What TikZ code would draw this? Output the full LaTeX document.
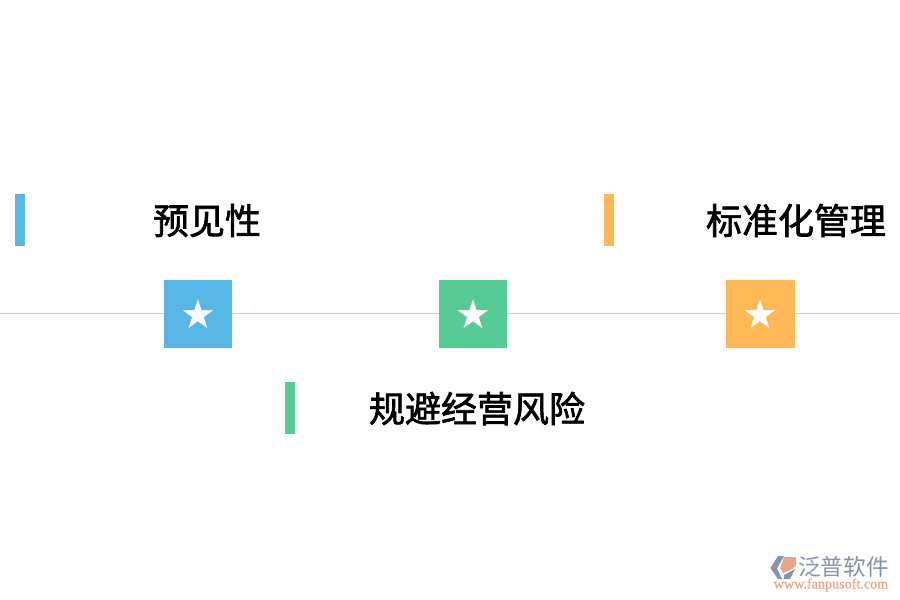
\documentclass[tikz,border=0pt]{standalone}
\usepackage{fontspec}
\setmainfont{DejaVu Sans}
\newfontfamily\cjk{Noto Sans CJK SC}
\newfontfamily\cjkb{Noto Sans CJK SC}[FakeBold=1.8]
\newfontfamily\urlfont{Liberation Serif}[FakeBold=0.6]
\definecolor{cblue}{HTML}{58B6E6}
\definecolor{cgreen}{HTML}{56CC94}
\definecolor{corange}{HTML}{FFB856}
\definecolor{cline}{HTML}{CFCFCF}
\definecolor{cgray}{HTML}{8494AC}
\definecolor{cor}{HTML}{E8A688}
\tikzset{
 px/.style={x=0.75pt,y=-0.75pt},
 square/.style={minimum width=51pt,minimum height=51pt,inner sep=0,text=white,font=\fontsize{30}{30}\selectfont},
 bar/.style={minimum width=7.5pt,minimum height=39pt,inner sep=0},
 title/.style={text=black,inner sep=0,font=\cjkb\fontsize{27}{27}\selectfont},
 brand/.style={text=cgray,inner sep=0,font=\cjk\fontsize{17}{17}\selectfont},
 url/.style={text=cor,inner sep=0,font=\urlfont\fontsize{10.6}{10.6}\selectfont}
}
\begin{document}
\begin{tikzpicture}[px]
\useasboundingbox (0,0) rectangle (900,600);
\fill[white] (0,0) rectangle (900,600);
\coordinate (L) at (0,313.5);
\coordinate (R) at (900,313.5);
\draw[cline,line width=0.75pt] (L) -- (R);
\node[square,fill=cblue] (s1) at (198,314) {\raisebox{-1pt}{★}};
\node[square,fill=cgreen] (s2) at (473,314) {\raisebox{-1pt}{★}};
\node[square,fill=corange,minimum width=51.75pt] (s3) at (760.5,314) {\raisebox{-1pt}{★}};
\node[bar,fill=cblue] (b1) at (20,220) {};
\node[bar,fill=corange] (b3) at (609,220) {};
\node[bar,fill=cgreen] (b2) at (290,408) {};
\node[title] (t1) at (207,220.5) {预见性};
\node[title] (t3) at (796,220.5) {标准化管理};
\node[title] (t2) at (477,408.5) {规避经营风险};
\node[brand] (br) at (843.5,566.5) {泛普软件};
\node[url] (u) at (831,585) {www.fanpusoft.com};
\fill[cgray] (770.5,568) -- (778,556) -- (784,556) -- (777,568.5) -- (782,579) -- (778,579) -- cycle;
\fill[cor] (784,557) -- (796,557) -- (796,565) .. controls (793,570) and (788,571) .. (783,573) -- (780,568) -- cycle;
\fill[cgray] (784,575) -- (795,569) -- (790,579) -- (784,579) -- cycle;
\end{tikzpicture}
\end{document}
